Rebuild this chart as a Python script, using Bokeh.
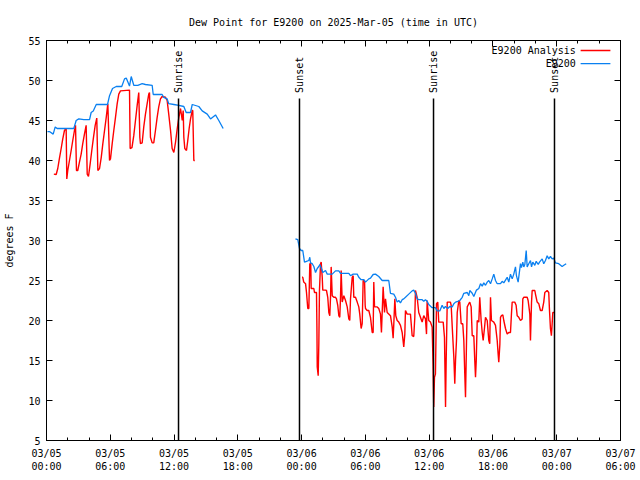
from math import pi
from bokeh.plotting import figure
from bokeh.models import Range1d, FixedTicker, LinearAxis
from bokeh.core.properties import value
from bokeh.embed import file_html
from bokeh.resources import INLINE

# ---- data (hours since 2025-03-05 00:00 UTC, dew point degrees F) ----
analysis_day1_hours = [0.69, 0.91, 1.06, 1.22, 1.38, 1.53, 1.69, 1.85, 1.91, 2.0, 2.16, 2.32, 2.47, 2.63, 2.73,
                       2.82, 2.94, 3.1, 3.26, 3.41, 3.57, 3.73, 3.83, 3.95, 4.11, 4.26, 4.42, 4.58, 4.73, 4.83,
                       4.99, 5.15, 5.3, 5.46, 5.62, 5.77, 5.93, 6.02, 6.18, 6.33, 6.49, 6.65, 6.8, 6.96, 7.81,
                       7.87, 8.04, 8.21, 8.37, 8.53, 8.68, 8.78, 8.84, 9.0, 9.15, 9.31, 9.47, 9.62, 9.69, 9.78,
                       9.94, 10.09, 10.25, 10.41, 10.56, 10.72, 10.88, 11.19, 11.35, 11.5, 11.67, 11.82, 11.98,
                       12.14, 12.3, 12.45, 12.54, 12.61, 12.77, 12.86, 12.92, 13.01, 13.17, 13.29, 13.42, 13.55,
                       13.71, 13.76, 13.86, 13.95]
analysis_day1_dewpt = [38.3, 38.25, 39.0, 40.3, 41.5, 42.7, 43.75, 44.0, 37.7, 38.75, 40.0, 41.25, 42.5, 43.75, 44.4,
                       38.75, 38.75, 39.8, 40.8, 42.1, 43.3, 44.4, 38.3, 38.0, 39.6, 41.25, 42.9, 44.4, 45.3, 38.75,
                       39.0, 40.4, 42.1, 43.75, 45.4, 47.1, 40.0, 40.2, 42.1, 43.75, 45.4, 47.1, 48.3, 48.7, 48.8,
                       41.5, 41.6, 43.1, 45.0, 46.9, 48.5, 42.9, 42.1, 42.2, 44.2, 45.8, 47.1, 48.3, 48.5, 42.9,
                       42.2, 42.2, 43.75, 45.4, 46.7, 47.7, 48.0, 47.9, 47.5, 45.8, 43.75, 41.5, 41.0,
                       42.3, 44.0, 45.4, 46.0, 46.5, 45.0, 46.25, 42.9, 41.5, 41.25, 42.5, 44.0, 45.2,
                       46.25, 46.25, 40.0, 40.0]

analysis_day2_hours = [24.04, 24.11, 24.2, 24.37, 24.46, 24.58, 24.68, 24.77, 24.86, 24.9, 25.15, 25.21, 25.4, 25.44,
                       25.47, 25.56, 25.62, 25.68, 25.78, 25.84, 25.94, 25.99, 26.25, 26.34, 26.46, 26.56, 26.65,
                       26.72, 26.78, 26.88, 27.03, 27.19, 27.28, 27.4, 27.5, 27.59, 27.66, 27.72, 27.82, 27.97,
                       28.13, 28.29, 28.44, 28.53, 28.6, 28.76, 28.85, 28.91, 29.07, 29.23, 29.38, 29.47, 29.6,
                       29.7, 29.79, 29.92, 29.98, 30.01, 30.17, 30.32, 30.48, 30.64, 30.73, 30.79, 30.86, 31.11,
                       31.26, 31.42, 31.51, 31.67, 31.8, 31.89, 32.05, 32.36, 32.52, 32.61, 32.67, 32.77, 32.86,
                       32.99, 33.14, 33.3, 33.46, 33.61, 33.71, 33.77, 33.93, 34.24, 34.4, 34.55, 34.65, 34.71,
                       34.87, 35.02, 35.18, 35.34, 35.49, 35.65, 35.75, 35.81, 35.96, 36.12, 36.28, 36.37, 36.43,
                       36.5, 36.59, 36.69, 36.81, 36.9, 37.32, 37.44, 37.54, 37.6, 37.7, 38.0, 38.07, 38.17, 38.32,
                       38.41, 38.48, 38.57, 38.64, 38.79, 38.88, 39.01, 39.16, 39.26, 39.35, 39.42, 39.51, 39.58,
                       39.73, 39.82, 39.95, 40.05, 40.2, 40.29, 40.36, 40.43, 40.52, 40.67, 40.76, 40.89, 40.99,
                       41.08, 41.2, 41.3, 41.46, 41.61, 41.7, 41.77, 41.86, 42.08, 42.24, 42.4, 42.49, 42.55, 42.65,
                       42.71, 42.8, 42.93, 43.02, 43.18, 43.34, 43.49, 43.65, 43.74, 43.81, 44.05, 44.18, 44.28,
                       44.43, 44.59, 44.75, 44.81, 44.9, 45.22, 45.31, 45.37, 45.47, 45.53, 45.63, 45.69, 45.94,
                       46.0, 46.16, 46.31, 46.47, 46.63, 46.78, 46.88, 47.1, 47.25, 47.32, 47.41, 47.5, 47.57,
                       47.63, 47.76]
analysis_day2_dewpt = [25.4, 25.4, 24.8, 24.6, 23.5, 21.5, 21.5, 27.1, 27.1, 24.0, 24.0, 23.5, 23.5, 19.2,
                       14.2, 13.1, 17.1, 23.75, 27.1, 27.3, 25.4, 23.8, 23.8, 23.75, 22.9, 21.0, 20.6,
                       22.9, 26.7, 23.1, 22.9, 22.9, 22.7, 21.9, 20.6, 20.4, 22.9, 26.25, 22.3, 23.1,
                       22.5, 21.7, 20.2, 20.0, 22.7, 25.4, 25.6, 22.9, 22.9, 22.3, 21.7, 20.8, 19.0,
                       19.6, 25.0, 25.0, 21.9, 21.5, 21.25, 21.25, 20.4, 18.5, 18.5, 24.8, 21.7, 21.7,
                       21.5, 20.8, 18.5, 24.2, 21.0, 22.7, 21.0, 20.6, 19.2, 17.8, 19.5, 22.7, 20.6,
                       20.0, 19.8, 19.4, 18.5, 16.7, 18.3, 21.25, 20.8, 20.8, 18.1, 18.0, 20.4, 23.75,
                       22.9, 21.0, 20.4, 19.8, 20.6, 20.2, 18.3, 22.5, 20.0, 19.8, 19.2, 14.4, 9.2,
                       12.9, 13.3, 22.1, 22.3, 19.8, 19.8, 17.9, 9.2, 15.0, 22.3, 22.3, 21.9, 19.2, 15.4,
                       12.1, 15.0, 17.5, 21.0, 22.5, 22.3, 19.6, 19.6, 17.5, 13.3, 10.4, 17.1, 21.7,
                       22.1, 22.3, 21.7, 18.1, 18.1, 15.0, 12.9, 15.0, 20.0, 19.8, 22.9, 20.0, 18.5,
                       17.5, 19.0, 20.4, 20.0, 17.5, 17.1, 22.9, 20.0, 19.8, 19.4, 17.5, 15.8, 14.8, 17.0,
                       20.4, 20.6, 20.7, 20.0, 19.0, 18.3, 18.5, 18.5, 20.8, 22.3, 22.3, 21.9, 20.6,
                       20.4, 20.0, 20.2, 22.7, 22.9, 22.9, 22.5, 21.9, 20.8, 17.5, 22.3, 23.75, 23.75,
                       23.3, 22.3, 22.1, 21.25, 21.25, 22.3, 23.5, 23.75, 23.5, 21.25, 19.0, 18.1, 19.6,
                       21.0, 21.0]

obs_day1_hours = [0.09, 0.31, 0.63, 0.82, 1.0, 2.57, 2.79, 3.04, 3.51, 4.05, 4.2, 4.4, 4.68, 5.74, 5.93, 6.21,
                  6.56, 7.08, 7.34, 7.5, 7.81, 7.97, 8.21, 8.59, 9.0, 9.31, 9.94, 10.04, 10.88, 11.03, 11.35,
                  11.5, 11.98, 12.45, 12.92, 13.14, 13.55, 13.71, 14.33, 14.65, 15.12, 15.43, 15.9, 16.21, 16.62]
obs_day1_dewpt = [43.6, 43.6, 43.3, 44.2, 44.0, 44.0, 45.0, 45.2, 45.1, 45.1, 46.0, 46.2, 47.0, 47.0, 48.1, 49.0,
                  49.25, 49.25, 50.2, 50.3, 49.3, 50.5, 49.4, 49.4, 49.6, 49.5, 49.4, 48.25, 48.25, 47.9, 47.7,
                  47.1, 47.0, 46.9, 46.75, 46.0, 46.0, 47.0, 46.75, 46.2, 45.8, 45.2, 45.7, 45.0, 44.0]

obs_day2_hours = [23.42, 23.64, 23.8, 23.96, 24.11, 24.27, 24.46, 24.68, 24.77, 24.84, 25.0, 25.15, 25.31, 25.47,
                  25.62, 25.71, 25.84, 25.99, 26.25, 26.41, 26.88, 27.19, 27.5, 27.66, 28.44, 28.6, 28.85, 29.23,
                  29.38, 29.6, 29.85, 30.01, 30.32, 30.48, 30.73, 30.95, 31.26, 31.58, 32.2, 32.36, 32.67, 32.83,
                  32.99, 33.14, 33.3, 33.46, 33.61, 33.77, 34.08, 34.4, 34.55, 34.71, 34.87, 35.02, 35.34, 35.49,
                  35.65, 35.81, 35.96, 36.28, 36.59, 36.75, 37.0, 37.22, 37.38, 37.53, 37.75, 37.94, 38.17, 38.32,
                  38.48, 38.69, 38.88, 39.11, 39.26, 39.58, 39.73, 39.82, 40.05, 40.2, 40.45, 40.67, 40.83, 40.99,
                  41.14, 41.3, 41.46, 41.61, 41.77, 41.93, 42.08, 42.24, 42.4, 42.71, 42.87, 43.02, 43.34, 43.49,
                  43.65, 43.81, 43.96, 44.12, 44.21, 44.37, 44.59, 44.68, 44.81, 44.9, 45.0, 45.13, 45.22, 45.37,
                  45.53, 45.63, 45.75, 45.94, 46.07, 46.26, 46.38, 46.63, 46.78, 46.94, 47.1, 47.25, 47.41, 47.57,
                  47.72, 47.88, 48.19, 48.51, 48.67, 48.89]
obs_day2_dewpt = [30.2, 30.1, 29.0, 28.75, 28.75, 27.3, 27.4, 27.5, 27.9, 27.2, 27.1, 26.75, 26.0, 26.5,
                  26.75, 27.0, 26.6, 26.0, 26.25, 25.8, 25.8, 26.2, 26.2, 25.9, 25.9, 25.6, 25.8, 25.8,
                  25.4, 25.1, 25.1, 24.8, 25.2, 25.3, 25.75, 25.8, 25.5, 25.0, 25.0, 23.4, 23.3, 22.9,
                  22.3, 22.5, 22.2, 22.6, 22.7, 22.9, 23.3, 23.7, 23.8, 23.4, 22.7, 22.6, 22.6, 22.4,
                  22.6, 22.4, 22.0, 21.6, 21.6, 21.2, 21.2, 21.9, 21.5, 21.75, 21.5, 21.75, 21.7, 22.1,
                  22.3, 22.4, 22.5, 22.9, 23.4, 23.5, 23.1, 23.75, 23.4, 23.0, 23.8, 24.0, 24.6, 24.3,
                  24.7, 24.4, 24.8, 25.0, 24.6, 25.2, 25.8, 25.0, 24.6, 24.6, 24.9, 24.7, 25.4, 24.8,
                  25.8, 25.2, 25.8, 26.7, 25.6, 24.8, 27.1, 26.6, 27.3, 26.7, 27.0, 28.75, 26.7, 27.1,
                  27.5, 26.7, 27.3, 26.9, 27.4, 27.0, 27.3, 27.7, 27.1, 27.5, 28.1, 27.7, 28.0, 27.7,
                  27.8, 27.2, 27.1, 26.75, 26.9, 27.1]

event_hours = [12.42, 23.80, 36.41, 47.79]
event_names = ["Sunrise", "Sunset", "Sunrise", "Sunset"]

x_tick_hours = [0, 6, 12, 18, 24, 30, 36, 42, 48, 54]
x_tick_labels = ["03/05\n00:00", "03/05\n06:00", "03/05\n12:00", "03/05\n18:00", "03/06\n00:00",
                 "03/06\n06:00", "03/06\n12:00", "03/06\n18:00", "03/07\n00:00", "03/07\n06:00"]
x_minor_hours = [h for h in range(0, 55, 2)]
y_ticks = [5, 10, 15, 20, 25, 30, 35, 40, 45, 50, 55]

series_names = ["E9200 Analysis", "E9200"]
RED = "#ff0000"
BLUE = "#0a80f0"
FONT = "DejaVu Sans Mono"
FS = "10px"

p = figure(width=640, height=480, output_backend="svg", toolbar_location=None,
           x_range=Range1d(0, 54), y_range=Range1d(5, 55),
           min_border_left=46, min_border_right=20, min_border_top=40, min_border_bottom=40,
           title="Dew Point for E9200 on 2025-Mar-05 (time in UTC)")
p.title.align = "center"
p.title.text_font = FONT
p.title.text_font_size = FS
p.title.text_font_style = "normal"
p.title.text_color = "black"
p.title.standoff = 26
p.grid.visible = False
p.outline_line_color = "black"
p.outline_line_width = 1
p.background_fill_color = "white"
p.border_fill_color = "white"

def style_axis(ax):
    ax.axis_line_color = "black"
    ax.major_tick_line_color = "black"
    ax.minor_tick_line_color = "black"
    ax.major_tick_in = 6
    ax.major_tick_out = 0
    ax.minor_tick_in = 3
    ax.minor_tick_out = 0
    ax.major_label_text_font = FONT
    ax.major_label_text_font_size = FS
    ax.major_label_text_color = "black"

xa = p.xaxis[0]
xa.ticker = FixedTicker(ticks=x_tick_hours, minor_ticks=x_minor_hours)
xa.major_label_overrides = {h: lab for h, lab in zip(x_tick_hours, x_tick_labels)}
style_axis(xa)
xa.major_label_standoff = 7

ya = p.yaxis[0]
ya.ticker = FixedTicker(ticks=y_ticks)
style_axis(ya)
ya.major_label_standoff = 6
ya.axis_label = "degrees F"
ya.axis_label_text_font = FONT
ya.axis_label_text_font_size = FS
ya.axis_label_text_font_style = "normal"
ya.axis_label_text_color = "black"
ya.axis_label_standoff = 10

top = LinearAxis(ticker=FixedTicker(ticks=x_tick_hours, minor_ticks=x_minor_hours))
style_axis(top)
top.major_label_overrides = {h: "" for h in x_tick_hours}
top.major_label_standoff = 0
p.add_layout(top, "above")

right = LinearAxis(ticker=FixedTicker(ticks=y_ticks))
style_axis(right)
right.major_label_overrides = {v: "" for v in y_ticks}
right.major_label_standoff = 0
p.add_layout(right, "right")

# series
p.line(analysis_day1_hours, analysis_day1_dewpt, line_color=RED, line_width=1.4)
p.line(analysis_day2_hours, analysis_day2_dewpt, line_color=RED, line_width=1.4)
p.line(obs_day1_hours, obs_day1_dewpt, line_color=BLUE, line_width=1.3)
p.line(obs_day2_hours, obs_day2_dewpt, line_color=BLUE, line_width=1.3)

# sunrise / sunset markers
p.segment(x0=event_hours, y0=[5] * len(event_hours), x1=event_hours, y1=[47.75] * len(event_hours),
          line_color="black", line_width=1.5)
p.text(x=event_hours, y=[48.45] * len(event_hours), text=event_names, angle=pi / 2,
       text_align="left", text_baseline="middle", text_font=value(FONT),
       text_font_size=value(FS), text_color="black")

# gnuplot-style key (text then sample line)
p.text(x=[49.8, 49.8], y=[53.75, 52.1], text=series_names, text_align="right",
       text_baseline="middle", text_font=value(FONT), text_font_size=value(FS), text_color="black")
p.segment(x0=[50.25, 50.25], y0=[53.75, 52.1], x1=[53.05, 53.05], y1=[53.75, 52.1],
          line_color=[RED, BLUE], line_width=1.3)

open("out.html", "w").write(file_html(p, INLINE))
